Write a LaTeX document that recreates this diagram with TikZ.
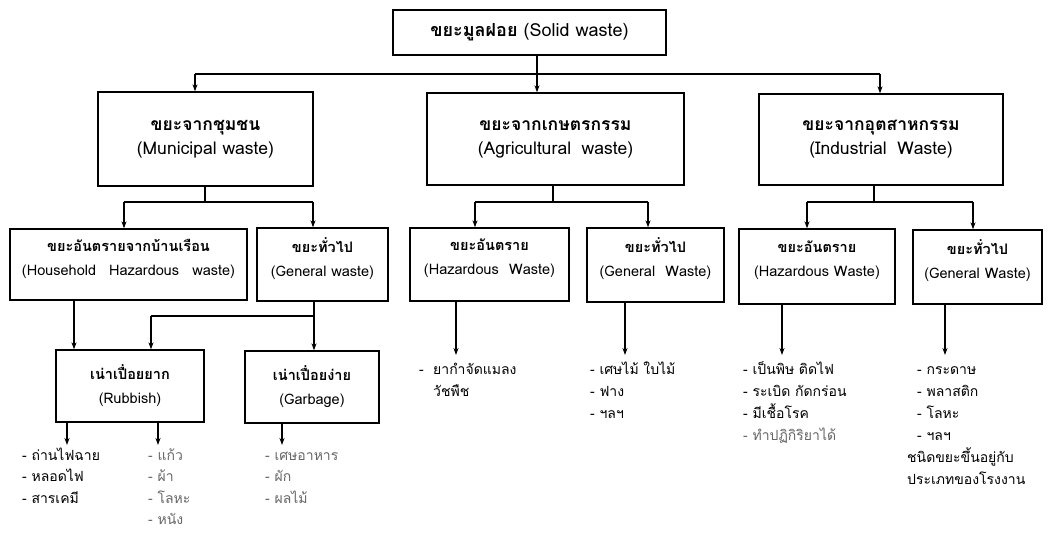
\documentclass[tikz,border=0pt]{standalone}
\usepackage{fontspec}
\setmainfont[Script=Thai]{Loma}
\usetikzlibrary{arrows.meta}
\begin{document}
\begin{tikzpicture}[x=1pt,y=-1pt,
  box/.style={draw, line width=1.3pt, inner sep=0pt, align=center},
  top/.style={font=\fontsize{18}{24}\selectfont},
  big/.style={font=\fontsize{17.5}{24}\selectfont},
  mid/.style={font=\fontsize{14.5}{24}\selectfont},
  raised/.style={mid, text depth=15pt},
  conn/.style={line width=1.3pt},
  arr/.style={conn, -{Stealth[length=7pt,width=5pt]}},
  item/.style={anchor=base west, inner sep=0pt, font=\fontsize{14}{16}\selectfont},
  faint/.style={item, text=black!60}
]
\useasboundingbox (0,0) rectangle (1053,554);

% boxes
\node[box, top, minimum width=273, minimum height=45] (root) at (529.5,32.5)
  {{\bfseries ขยะมูลฝอย} (Solid waste)};
\node[box, big, minimum width=215, minimum height=94] (mun) at (205.5,139)
  {{\bfseries ขยะจากชุมชน}\\(Municipal waste)};
\node[box, big, minimum width=257, minimum height=92] (agr) at (555.5,139)
  {{\bfseries ขยะจากเกษตรกรรม}\\(Agricultural\hspace{0.6em}waste)};
\node[box, big, minimum width=244, minimum height=91] (ind) at (881,139.5)
  {{\bfseries ขยะจากอุตสาหกรรม}\\(Industrial\hspace{0.6em}Waste)};

\node[box, raised, minimum width=237, minimum height=71] (hh) at (128.5,264.5)
  {{\bfseries ขยะอันตรายจากบ้านเรือน}\\(Household\hspace{0.9em}Hazardous\hspace{0.9em}waste)};
\node[box, raised, minimum width=131, minimum height=73] (mgen) at (322.5,264.5)
  {{\bfseries ขยะทั่วไป}\\(General waste)};
\node[box, raised, minimum width=159, minimum height=73] (ahaz) at (489.5,264.5)
  {{\bfseries ขยะอันตราย}\\(Hazardous\hspace{0.7em}Waste)};
\node[box, raised, minimum width=137, minimum height=74] (agen) at (655.5,265)
  {{\bfseries ขยะทั่วไป}\\(General\hspace{0.7em}Waste)};
\node[box, raised, minimum width=156, minimum height=75] (ihaz) at (817,266.5)
  {{\bfseries ขยะอันตราย}\\(Hazardous Waste)};
\node[box, raised, minimum width=129, minimum height=74] (igen) at (977.5,267)
  {{\bfseries ขยะทั่วไป}\\(General Waste)};

\node[box, mid, minimum width=148, minimum height=72] (rub) at (130,386)
  {{\bfseries เน่าเปื่อยยาก}\\(Rubbish)};
\node[box, mid, minimum width=134, minimum height=72] (gar) at (312,387)
  {{\bfseries เน่าเปื่อยง่าย}\\(Garbage)};

% junction points and free ends
\coordinate (busL) at (195,74);
\coordinate (busM) at (537,74);
\coordinate (busR) at (880,74);
\coordinate (mS) at (205,202);  \coordinate (mL) at (124,202);  \coordinate (mR) at (313,202);
\coordinate (aS) at (553,202);  \coordinate (aL) at (475,202);  \coordinate (aR) at (648,202);
\coordinate (iS) at (874,202);  \coordinate (iL) at (807,202);  \coordinate (iR) at (973,202);
\coordinate (hhD) at (74,316);
\coordinate (gS) at (314,316);  \coordinate (gL) at (151,316);
\coordinate (rd1) at (67,445);  \coordinate (rd2) at (158,445);
\coordinate (gd) at (282,445);
\coordinate (ahd) at (456,355); \coordinate (agd) at (625,355);
\coordinate (ihd) at (782,355); \coordinate (igd) at (945,355);

% first level
\draw[conn] (busL) -- (busR);
\draw[arr] (root.south -| busM) -- (agr.north -| busM);
\draw[arr] (busL) -- (mun.north -| busL);
\draw[arr] (busR) -- (ind.north -| busR);

% second level
\draw[conn] (mun.south -| mS) -- (mS);
\draw[conn] (mL) -- (mR);
\draw[arr] (mL) -- (hh.north -| mL);
\draw[arr] (mR) -- (mgen.north -| mR);

\draw[conn] (agr.south -| aS) -- (aS);
\draw[conn] (aL) -- (aR);
\draw[arr] (aL) -- (ahaz.north -| aL);
\draw[arr] (aR) -- (agen.north -| aR);

\draw[conn] (ind.south -| iS) -- (iS);
\draw[conn] (iL) -- (iR);
\draw[arr] (iL) -- (ihaz.north -| iL);
\draw[arr] (iR) -- (igen.north -| iR);

% third level
\draw[arr] (hh.south -| hhD) -- (rub.north -| hhD);
\draw[arr] (mgen.south -| gS) -- (gar.north -| gS);
\draw[conn] (gS) -- (gL);
\draw[arr] (gL) -- (rub.north -| gL);

% to the lists
\draw[arr] (rub.south -| rd1) -- (rd1);
\draw[arr] (rub.south -| rd2) -- (rd2);
\draw[arr] (gar.south -| gd) -- (gd);
\draw[arr] (ahaz.south -| ahd) -- (ahd);
\draw[arr] (agen.south -| agd) -- (agd);
\draw[arr] (ihaz.south -| ihd) -- (ihd);
\draw[arr] (igen.south -| igd) -- (igd);

% lists
\foreach \t [count=\i from 0] in {- ถ่านไฟฉาย, - หลอดไฟ, - สารเคมี}
  \node[item] (rubA\i) at (22,{460+21.5*\i}) {\t};
\foreach \t [count=\i from 0] in {- แก้ว, - ผ้า, - โลหะ, - หนัง}
  \node[faint] (rubB\i) at (148,{460+21.5*\i}) {\t};
\foreach \t [count=\i from 0] in {- เศษอาหาร, - ผัก, - ผลไม้}
  \node[faint] (garL\i) at (265,{460+21.5*\i}) {\t};

\node[item] (ahz0) at (419,374) {-};
\node[item] (ahz1) at (433,374) {ยากำจัดแมลง};
\node[item] (ahz2) at (433,396) {วัชพืช};

\foreach \t [count=\i from 0] in {- เศษไม้ ใบไม้, - ฟาง, - ฯลฯ}
  \node[item] (agL\i) at (590,{374+22*\i}) {\t};
\foreach \t [count=\i from 0] in {- เป็นพิษ ติดไฟ, - ระเบิด กัดกร่อน, - มีเชื้อโรค}
  \node[item] (ihL\i) at (743,{374+22*\i}) {\t};
\node[faint] (ihL3) at (743,440) {- ทำปฏิกิริยาได้};
\foreach \t [count=\i from 0] in {- กระดาษ, - พลาสติก, - โลหะ, - ฯลฯ}
  \node[item] (igL\i) at (917,{374+22*\i}) {\t};
\node[item] (igN1) at (907,462) {ชนิดขยะขึ้นอยู่กับ};
\node[item] (igN2) at (907,484) {ประเภทของโรงงาน};
\end{tikzpicture}
\end{document}
